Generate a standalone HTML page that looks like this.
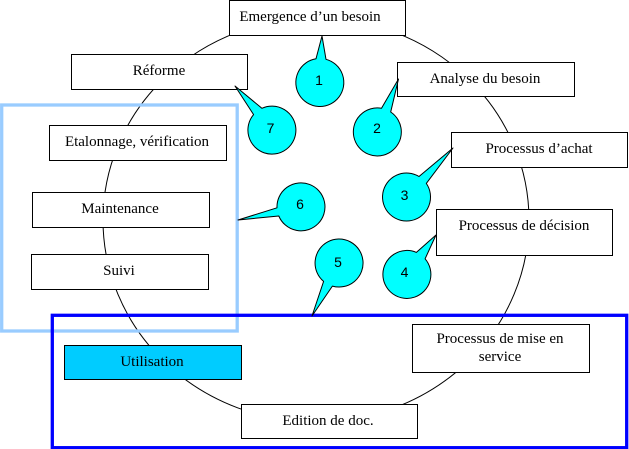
<!DOCTYPE html>
<html>
<head>
<meta charset="utf-8">
<style>
  html, body { margin:0; padding:0; background:#fff; }
  body { width:629px; height:449px; overflow:hidden; }
  svg { display:block; }
  text.s { font-family: "Liberation Serif", "Times New Roman", "DejaVu Serif", serif; font-size:15px; }
  text.n { font-family: "Liberation Sans", Arial, "DejaVu Sans", sans-serif; font-size:14px; }
</style>
</head>
<body>
<svg width="629" height="449" viewBox="0 0 629 449" xmlns="http://www.w3.org/2000/svg">
  <rect x="0" y="0" width="629" height="449" fill="#fff"/>

  <!-- circular cycle line -->
  <ellipse cx="316" cy="220" rx="213" ry="202" fill="none" stroke="#000" stroke-width="1"/>

  <!-- light blue group frame -->
  <rect x="1.7" y="105" width="235.5" height="226" fill="none" stroke="#99CCFF" stroke-width="3.3"/>
  <!-- dark blue group frame -->
  <rect x="52.3" y="315.3" width="574.4" height="132.4" fill="none" stroke="#0000FF" stroke-width="3.3"/>

  <!-- boxes -->
  <g stroke="#000" stroke-width="1" fill="#fff">
    <rect x="229.5" y="0.5" width="176" height="35"/>
    <rect x="71.5" y="54.5" width="176" height="35"/>
    <rect x="49.5" y="125.5" width="177" height="35"/>
    <rect x="32.5" y="192.5" width="177" height="35"/>
    <rect x="31.5" y="254.5" width="177" height="35"/>
    <rect x="64.5" y="345.5" width="177" height="34" fill="#00CCFF"/>
    <rect x="241.5" y="404.5" width="176" height="34"/>
    <rect x="397.5" y="62.5" width="177" height="34"/>
    <rect x="451.5" y="132.5" width="176" height="35"/>
    <rect x="436.5" y="209.5" width="176" height="46"/>
    <rect x="412.5" y="324.5" width="177" height="48"/>
  </g>

  <!-- labels -->
  <g text-anchor="middle" fill="#000" font-family="'Liberation Serif', 'Times New Roman', 'DejaVu Serif', serif" font-size="15" style="font-family:'Liberation Serif','Times New Roman','DejaVu Serif',serif;font-size:15px">
    <text class="s" x="310" y="21">Emergence d’un besoin</text>
    <text class="s" x="159" y="75">Réforme</text>
    <text class="s" x="137" y="146">Etalonnage, vérification</text>
    <text class="s" x="120" y="213">Maintenance</text>
    <text class="s" x="119" y="275">Suivi</text>
    <text class="s" x="152" y="366">Utilisation</text>
    <text class="s" x="328" y="425">Edition de doc.</text>
    <text class="s" x="485" y="83">Analyse du besoin</text>
    <text class="s" x="539" y="153">Processus d’achat</text>
    <text class="s" x="524" y="230">Processus de décision</text>
    <text class="s" x="500" y="343">Processus de mise en</text>
    <text class="s" x="500" y="361">service</text>
  </g>

  <!-- callout bubbles -->
  <g fill="#00FFFF" stroke="#000" stroke-width="1" stroke-linejoin="round">
    <path d="M316.0,58.8 L322,36 L326.0,59.3 A24 24 0 1 1 316.0,58.8 Z"/>
    <path d="M381.5,108.3 L398.5,79 L390.7,112.0 A24 24 0 1 1 381.5,108.3 Z"/>
    <path d="M419.0,176.5 L453,148 L426.3,183.4 A24 24 0 1 1 419.0,176.5 Z"/>
    <path d="M416.4,252.4 L436,235 L425.1,258.8 A24 24 0 1 1 416.4,252.4 Z"/>
    <path d="M332.4,286.1 L312,316 L323.6,281.4 A24 24 0 1 1 332.4,286.1 Z"/>
    <path d="M278.8,216.0 L238,220 L277.0,207.8 A24 24 0 1 1 278.8,216.0 Z"/>
    <path d="M253.6,114.6 L235,86 L261.9,108.3 A24 24 0 1 1 253.6,114.6 Z"/>
  </g>

  <g text-anchor="middle" fill="#000" font-family="'Liberation Sans', Arial, 'DejaVu Sans', sans-serif" font-size="14">
    <text class="n" x="319" y="85">1</text>
    <text class="n" x="377" y="133">2</text>
    <text class="n" x="404.5" y="200">3</text>
    <text class="n" x="404.5" y="277">4</text>
    <text class="n" x="338" y="267">5</text>
    <text class="n" x="300" y="209">6</text>
    <text class="n" x="270.5" y="133">7</text>
  </g>
</svg>
</body>
</html>
